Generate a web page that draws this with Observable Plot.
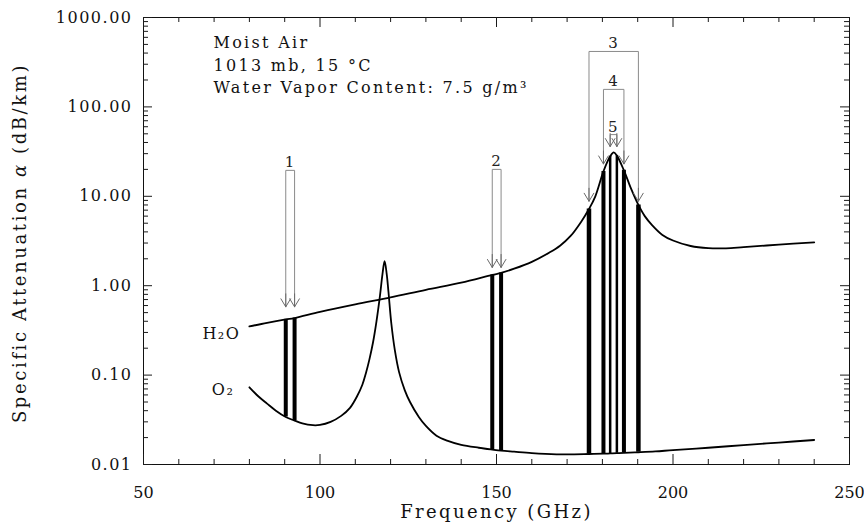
<!DOCTYPE html>
<html>
<head>
<meta charset="utf-8">
<script src="https://cdn.jsdelivr.net/npm/d3@7"></script>
<script src="https://cdn.jsdelivr.net/npm/@observablehq/plot@0.6"></script>
<style>
  body { margin: 0; background: #fff; }
  #chart svg text { letter-spacing: 1.5px; }
</style>
</head>
<body>
<div id="chart"></div>
<script>
// Specific attenuation of moist air (dB/km) versus frequency (GHz)
const h2oFreq  = [80, 85, 90.3, 92.8, 100, 110, 120, 130, 140, 148.8, 151.3, 155, 160, 165, 168, 171, 174,
                  176.2, 178, 180.3, 182.2, 183.2, 184.1, 186.1, 188, 190.2, 192, 194, 197, 200, 205, 210,
                  215, 220, 230, 240];
const h2oAtten = [0.35, 0.385, 0.42, 0.435, 0.51, 0.62, 0.74, 0.90, 1.08, 1.32, 1.39, 1.55, 1.85, 2.35, 2.8, 3.6, 5.2,
                  7.2, 10.0, 19, 28, 31, 28.5, 19.5, 12.5, 8.0, 6.0, 4.8, 3.7, 3.2, 2.78, 2.63,
                  2.62, 2.7, 2.88, 3.05];

const o2Freq  = [80, 82.5, 85, 87.5, 90.3, 92.8, 95, 98, 100, 103, 106, 108.5, 110.5, 112, 113, 114, 115, 116,
                 117, 117.7, 118.3, 118.9, 119.4, 120.2, 121.2, 122.4, 124, 125.5, 128, 130, 133, 136, 140,
                 145, 148.8, 151.3, 155, 160, 167, 172, 176.2, 180.3, 182.2, 184.1, 186.1, 190.2, 195, 200,
                 210, 220, 230, 240];
const o2Atten = [0.073, 0.058, 0.048, 0.040, 0.034, 0.031, 0.0288, 0.0275, 0.0277, 0.030, 0.035, 0.043, 0.058,
                 0.078, 0.105, 0.15, 0.23, 0.40, 0.78, 1.35, 1.88, 1.35, 0.85, 0.38, 0.19, 0.108, 0.068, 0.05,
                 0.034, 0.027, 0.021, 0.0185, 0.0166, 0.0154, 0.0147, 0.0143, 0.0139, 0.0134, 0.0130, 0.0130,
                 0.0131, 0.0132, 0.0133, 0.0134, 0.0135, 0.0137, 0.0140, 0.0145, 0.0154, 0.0165, 0.0176, 0.0188];

// Radiometer channels: lower / upper passband frequencies (GHz)
const chanLabel  = ["1", "2", "3", "4", "5"];
const chanLow    = [90.3, 148.8, 176.2, 180.3, 182.2];
const chanHigh   = [92.8, 151.3, 190.2, 186.1, 184.1];
const bracketTop = [19.5, 20, 417, 157, 49];     // dB/km level of each channel bracket
const arrowTip   = [0.58, 1.6, 8.8, 23, 36];     // dB/km level where the arrows end
const barWidth   = [4, 4, 4.5, 4, 2.5];

const xTicks = [50, 100, 150, 200, 250];
const yTicks = [0.01, 0.1, 1, 10, 100, 1000];
const notes  = ["Moist Air", "1013 mb, 15 °C", "Water Vapor Content: 7.5 g/m³"];

const h2o = h2oFreq.map((f, i) => ({f, a: h2oAtten[i]}));
const o2  = o2Freq.map((f, i) => ({f, a: o2Atten[i]}));

const channels = chanLabel.map((label, i) => ({
  label, lo: chanLow[i], hi: chanHigh[i], top: bracketTop[i], tip: arrowTip[i], w: barWidth[i]
}));
const bars = channels.flatMap(c => [c.lo, c.hi].map(f => ({
  f, w: c.w,
  bottom: o2Atten[o2Freq.indexOf(f)],
  top: h2oAtten[h2oFreq.indexOf(f)]
})));
const arrows = channels.flatMap(c => [c.lo, c.hi].map(f => ({f, top: c.top, tip: c.tip})));

// minor ticks
const xMinor = d3.range(60, 250, 10).filter(d => d % 50 !== 0);
const yMinor = yTicks.slice(0, -1).flatMap(d => d3.range(2, 10).map(k => k * d));

const W = 864, H = 526;
const mL = 143, mR = 15, mT = 17, mB = 62;
const fW = W - mL - mR, fH = H - mT - mB;
const xDom = [50, 250], yDom = [0.01, 1000];

// convert a length in pixels to a step along each scale (for inward tick marks)
const decadePx = fH / Math.log10(yDom[1] / yDom[0]);
const yStep = px => 10 ** (px / decadePx);
const xStep = px => px * (xDom[1] - xDom[0]) / fW;

const tickColor = "#1a1a1a";
function xTickMarks(ticks, len) {
  return [
    Plot.ruleX(ticks.map(v => ({v})), {x: "v", y1: () => yDom[0], y2: () => yDom[0] * yStep(len), stroke: tickColor}),
    Plot.ruleX(ticks.map(v => ({v})), {x: "v", y1: () => yDom[1] / yStep(len), y2: () => yDom[1], stroke: tickColor})
  ];
}
function yTickMarks(ticks, len) {
  return [
    Plot.ruleY(ticks.map(v => ({v})), {y: "v", x1: () => xDom[0], x2: () => xDom[0] + xStep(len), stroke: tickColor}),
    Plot.ruleY(ticks.map(v => ({v})), {y: "v", x1: () => xDom[1] - xStep(len), x2: () => xDom[1], stroke: tickColor})
  ];
}

// arrowheads are drawn on a longer (partly hidden) shaft so short brackets get full-size heads
const headShaft = 36, shownShaft = 13;

const chart = Plot.plot({
  width: W, height: H,
  marginLeft: mL, marginRight: mR, marginTop: mT, marginBottom: mB,
  style: {fontFamily: "'DejaVu Serif', serif", fontSize: "16px", color: "#111", background: "#fff"},
  x: {domain: xDom},
  y: {type: "log", domain: yDom},
  marks: [
    Plot.frame({stroke: "#111"}),
    ...xTickMarks(xTicks, 10),
    ...xTickMarks(xMinor, 5),
    ...yTickMarks(yTicks, 9),
    ...yTickMarks(yMinor, 5),
    Plot.axisX({ticks: xTicks, tickSize: 0, tickPadding: 22, tickFormat: d => String(d), label: null,
                fontSize: 16, className: "xlabels"}),
    Plot.axisY({ticks: yTicks, tickSize: 0, tickPadding: 11, tickFormat: d => d.toFixed(2), label: null,
                fontSize: 16}),

    // channel passbands between the two absorption curves
    Plot.ruleX(bars, {x: "f", y1: "bottom", y2: "top", strokeWidth: "w", stroke: "#000"}),

    // attenuation curves
    Plot.line(h2o, {x: "f", y: "a", curve: "catmull-rom", stroke: "#000", strokeWidth: 1.8}),
    Plot.line(o2, {x: "f", y: "a", curve: "catmull-rom", stroke: "#000", strokeWidth: 1.8}),

    // channel brackets with arrows
    Plot.link(channels, {x1: "lo", x2: "hi", y1: "top", y2: "top", stroke: "#8a8a8a", strokeWidth: 1}),
    Plot.link(arrows, {x1: "f", x2: "f", y1: "top", y2: "tip", stroke: "#8a8a8a", strokeWidth: 1}),
    Plot.arrow(arrows, {x1: "f", x2: "f", y1: d => d.tip * yStep(headShaft), y2: "tip",
                        insetStart: headShaft - shownShaft, stroke: "#6a6a6a", strokeWidth: 1,
                        headLength: 14, headAngle: 62}),
    Plot.text(channels, {x: d => (d.lo + d.hi) / 2, y: "top", text: "label", lineAnchor: "bottom",
                         dy: -3, fontSize: 15, fill: "#222"}),

    // curve labels
    Plot.text([h2o[0]], {x: "f", y: "a", text: () => "H₂O", textAnchor: "end", dx: -9, dy: 7, fontSize: 16}),
    Plot.text([o2[0]], {x: "f", y: "a", text: () => "O₂", textAnchor: "end", dx: -15, dy: 3, fontSize: 16}),

    // conditions
    Plot.text([notes.join("\n")], {frameAnchor: "top-left", dx: 70, dy: 15, lineAnchor: "top",
                                   textAnchor: "start", lineHeight: 1.4, fontSize: 16, className: "notes"}),

    // axis titles
    Plot.text(["Specific Attenuation α (dB/km)"], {frameAnchor: "left", textAnchor: "middle", dx: -123, dy: 2,
                                                  rotate: -90, fontSize: 18, className: "ytitle"}),
    Plot.text(["Frequency (GHz)"], {frameAnchor: "bottom", textAnchor: "middle", dy: 53, fontSize: 18,
                                    className: "xtitle"})
  ]
});

// set the attenuation symbol in italics
d3.select(chart).selectAll(".ytitle text").each(function () {
  const t = this.textContent;
  const [a, b] = t.split("α");
  const sel = d3.select(this).text(null);
  sel.append("tspan").text(a);
  sel.append("tspan").attr("font-style", "italic").text("α");
  sel.append("tspan").text(b);
});
d3.select(chart).selectAll(".ytitle text").style("letter-spacing", "2.6px");
d3.select(chart).selectAll(".xtitle text").style("letter-spacing", "2.4px");
d3.select(chart).selectAll(".notes text").style("letter-spacing", "2.3px");
d3.select(chart).selectAll(".xlabels text").style("letter-spacing", "0px");

document.getElementById("chart").appendChild(chart);
</script>
</body>
</html>
